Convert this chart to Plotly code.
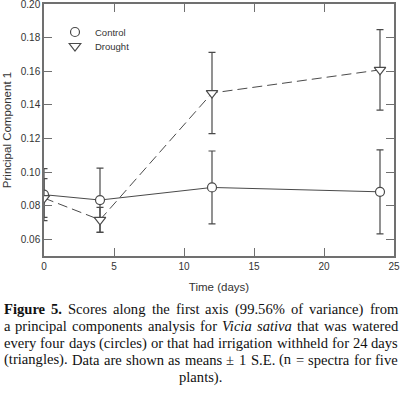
import plotly.graph_objects as go

days = [0, 4, 12, 24]
control_mean = [0.0865, 0.0833, 0.0908, 0.0882]
control_se = [0.0155, 0.0190, 0.0217, 0.0250]
drought_mean = [0.0845, 0.0715, 0.1470, 0.1608]
drought_se = [0.0115, 0.0075, 0.0242, 0.0240]

x_ticks = [0, 5, 10, 15, 20, 25]
y_ticks = [0.06, 0.08, 0.10, 0.12, 0.14, 0.16, 0.18, 0.20]

W, H = 400, 397
ML, MR, MT, MB = 44, 6, 4, 141
PW, PH = W - ML - MR, H - MT - MB

def px_x(p):
    return (p - ML) / PW

def px_y(p):
    return (H - MB - p) / PH

line_col = "#4a4a4a"
axis_col = "#707070"
sans = "Liberation Sans, Arial, sans-serif"
serif = "Liberation Serif, Times New Roman, serif"

fig = go.Figure()
fig.add_trace(go.Scatter(
    x=days, y=control_mean, mode="lines+markers", name="Control",
    line=dict(color=line_col, width=1),
    marker=dict(symbol="circle", size=9, color="white", line=dict(color=line_col, width=1.2)),
    error_y=dict(type="data", array=control_se, color=line_col, thickness=1.2, width=3.5),
    showlegend=False,
))
fig.add_trace(go.Scatter(
    x=days, y=drought_mean, mode="lines+markers", name="Drought",
    line=dict(color=line_col, width=1, dash="10px,5px"),
    marker=dict(symbol="triangle-down", size=10, color="white", line=dict(color=line_col, width=1.2)),
    error_y=dict(type="data", array=drought_se, color=line_col, thickness=1.2, width=3.5),
    showlegend=False,
))
fig.add_trace(go.Scatter(
    x=[None], y=[None], mode="markers", name="Control", legend="legend",
    marker=dict(symbol="circle", size=9, color="white", line=dict(color=line_col, width=1.2)),
))
fig.add_trace(go.Scatter(
    x=[None], y=[None], mode="markers", name="Drought", legend="legend2",
    marker=dict(symbol="triangle-down", size=10, color="white", line=dict(color=line_col, width=1.2)),
))

axis_common = dict(
    showline=True, linecolor=axis_col, linewidth=1.5, mirror="ticks",
    ticks="inside", ticklen=8, tickwidth=1.2, tickcolor=axis_col,
    showgrid=False, zeroline=False, automargin=False, ticklabeloverflow="allow",
    tickfont=dict(family=sans, size=10, color="#333"),
)

leg_common = dict(xanchor="left", yanchor="middle", bgcolor="rgba(0,0,0,0)",
                  font=dict(family=sans, size=9.5, color="#333"), itemwidth=30)

fig.update_layout(
    width=W, height=H,
    margin=dict(l=ML, r=MR, t=MT, b=MB, autoexpand=False),
    paper_bgcolor="white", plot_bgcolor="white",
    xaxis=dict(range=[0, 25], tickvals=x_ticks,
               title=dict(text="Time (days)", font=dict(family=sans, size=11.5, color="#333"), standoff=12),
               **axis_common),
    yaxis=dict(range=[0.05, 0.20], tickvals=y_ticks, tickformat=".2f",
               title=dict(text="Principal Component 1", font=dict(family=sans, size=11.5, color="#333"), standoff=7),
               **axis_common),
    legend=dict(x=px_x(55), y=px_y(32), **leg_common),
    legend2=dict(x=px_x(55), y=px_y(46), **leg_common),
)

# ---- caption (justified by per-word placement) ----
REG = {' ': 250, 'a': 444, 'b': 500, 'c': 444, 'd': 500, 'e': 444, 'f': 333, 'g': 500, 'h': 500,
       'i': 278, 'j': 278, 'k': 500, 'l': 278, 'm': 778, 'n': 500, 'o': 500, 'p': 500, 'q': 500,
       'r': 333, 's': 389, 't': 278, 'u': 500, 'v': 500, 'w': 722, 'x': 500, 'y': 500, 'z': 444,
       'S': 556, 'D': 722, 'E': 611, '(': 333, ')': 333, '.': 250, ',': 250, '%': 833,
       '±': 564, '=': 564}
for d in "0123456789":
    REG[d] = 500
BOLD = {'F': 611, 'i': 278, 'g': 500, 'u': 556, 'r': 444, 'e': 444, '5': 500, '.': 250, ' ': 250}
ITAL = {'V': 611, 'i': 278, 'c': 444, 'a': 500, 's': 389, 't': 278, 'v': 444}

def width(word, style):
    tab = {"b": BOLD, "i": ITAL}.get(style, REG)
    return sum(tab.get(ch, 500) for ch in word) / 1000.0

CAP_SIZE = 14.6
caption_lines = [
    [("Figure", "b"), ("5.", "b"), ("Scores", ""), ("along", ""), ("the", ""), ("first", ""), ("axis", ""),
     ("(99.56%", ""), ("of", ""), ("variance)", ""), ("from", "")],
    [("a", ""), ("principal", ""), ("components", ""), ("analysis", ""), ("for", ""), ("Vicia", "i"),
     ("sativa", "i"), ("that", ""), ("was", ""), ("watered", "")],
    [("every", ""), ("four", ""), ("days", ""), ("(circles)", ""), ("or", ""), ("that", ""), ("had", ""),
     ("irrigation", ""), ("withheld", ""), ("for", ""), ("24", ""), ("days", "")],
    [("(triangles).", ""), ("Data", ""), ("are", ""), ("shown", ""), ("as", ""), ("means", ""), ("±", ""),
     ("1", ""), ("S.E.", ""), ("(n", ""), ("=", ""), ("spectra", ""), ("for", ""), ("five", "")],
]
last_line = "plants)."
line_y = [309, 326, 343, 360, 377]
left_px, right_px = 3, 397

for words, yy in zip(caption_lines, line_y):
    widths = [width(w, s) * CAP_SIZE for w, s in words]
    gap = (right_px - left_px - sum(widths)) / (len(words) - 1)
    xpos = left_px
    for (w, s), wd in zip(words, widths):
        txt = f"<b>{w}</b>" if s == "b" else (f"<i>{w}</i>" if s == "i" else w)
        fig.add_annotation(text=txt, xref="paper", yref="paper", x=px_x(xpos), xanchor="left",
                           y=px_y(yy), yanchor="middle", showarrow=False, borderpad=0,
                           font=dict(family=serif, size=CAP_SIZE, color="#111"))
        xpos += wd + gap
fig.add_annotation(text=last_line, xref="paper", yref="paper", x=px_x(200), xanchor="center",
                   y=px_y(line_y[-1]), yanchor="middle", showarrow=False, borderpad=0,
                   font=dict(family=serif, size=CAP_SIZE, color="#111"))

fig.write_html("out.html", config={"displayModeBar": False},
               post_script="document.body.style.margin='0';")
